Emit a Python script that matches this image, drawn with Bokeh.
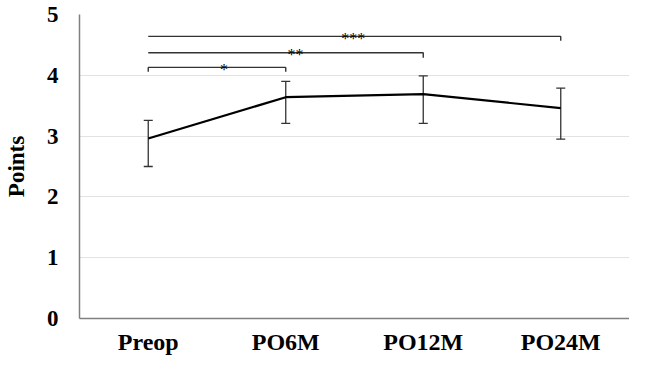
from bokeh.plotting import figure
from bokeh.models import ColumnDataSource, Whisker, TeeHead, FixedTicker, Range1d
from bokeh.core.properties import value
from bokeh.embed import file_html
from bokeh.resources import INLINE

categories = ["Preop", "PO6M", "PO12M", "PO24M"]
means = [2.96, 3.64, 3.69, 3.46]
upper = [3.26, 3.90, 3.99, 3.79]
lower = [2.50, 3.21, 3.21, 2.95]

# significance brackets: from group index to group index, height, whether left tick drawn
br_start = [0, 0, 0]
br_end = [1, 2, 3]
br_y = [4.13, 4.37, 4.64]
br_tick = [0.07, 0.08, 0.07]
br_left_tick = [True, False, False]
star_labels = ["*", "**", "***"]
star_x = [0.55, 1.07, 1.49]
star_y = [4.10, 4.34, 4.61]

y_ticks = [0, 1, 2, 3, 4, 5]

FONT = "Liberation Serif"
xs = list(range(len(categories)))

p = figure(width=629, height=357, output_backend="svg", toolbar_location=None,
           x_range=Range1d(-0.5, len(categories) - 0.5), y_range=Range1d(0, 5),
           min_border_left=74, min_border_right=0, min_border_top=14, min_border_bottom=32)
p.outline_line_color = None
p.background_fill_color = "white"

# axes
p.xaxis.ticker = FixedTicker(ticks=xs)
p.xaxis.major_label_overrides = {i: c for i, c in enumerate(categories)}
p.yaxis.ticker = FixedTicker(ticks=y_ticks)
for ax in (p.xaxis[0], p.yaxis[0]):
    ax.major_tick_line_color = None
    ax.minor_tick_line_color = None
    ax.axis_line_color = "#808080"
    ax.axis_line_width = 1.5
    ax.major_label_text_font = FONT
    ax.major_label_text_font_style = "bold"
    ax.major_label_text_color = "black"
p.xaxis.major_label_text_font_size = "24px"
p.yaxis.major_label_text_font_size = "23px"
p.xaxis.major_label_standoff = 4
p.yaxis.major_label_standoff = 15
p.yaxis.axis_label = "Points"
p.yaxis.axis_label_text_font = FONT
p.yaxis.axis_label_text_font_style = "bold"
p.yaxis.axis_label_text_font_size = "23px"
p.yaxis.axis_label_text_color = "black"
p.yaxis.axis_label_standoff = 15

p.xgrid.grid_line_color = None
p.ygrid.grid_line_color = "#e2e2e2"
p.ygrid.grid_line_width = 1.2

# error bars
src = ColumnDataSource(dict(x=xs, mean=means, upper=upper, lower=lower))
w = Whisker(base="x", upper="upper", lower="lower", source=src,
            line_color="#333333", line_width=1.3,
            upper_head=TeeHead(size=9, line_color="#333333", line_width=1.3),
            lower_head=TeeHead(size=9, line_color="#333333", line_width=1.3))
p.add_layout(w)

# mean line
p.line("x", "mean", source=src, line_color="black", line_width=2.2)

# brackets
bx, by = [], []
for s, e, y, t, lt in zip(br_start, br_end, br_y, br_tick, br_left_tick):
    if lt:
        bx.append([s, s, e, e]); by.append([y - t, y, y, y - t])
    else:
        bx.append([s, e, e]); by.append([y, y, y - t])
p.multi_line(bx, by, line_color="#333333", line_width=1.4)

p.text(x=star_x, y=star_y, text=star_labels, text_font=value(FONT),
       text_font_size="16px", text_color="black", text_align="center",
       text_baseline="alphabetic")

open("out.html", "w").write(file_html(p, INLINE))
